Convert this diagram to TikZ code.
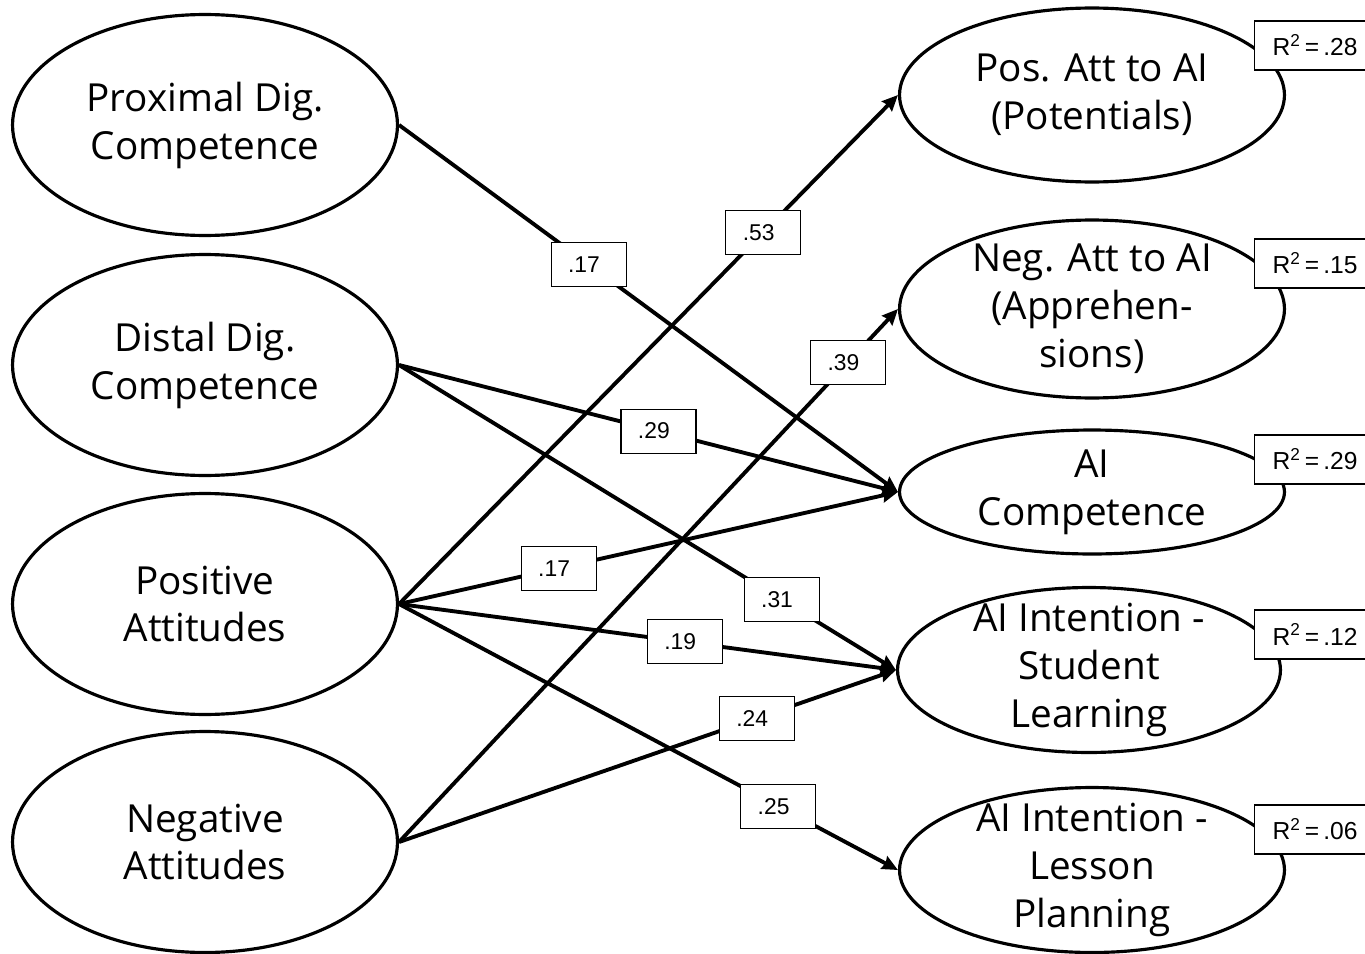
\documentclass[tikz,border=0pt]{standalone}
\usepackage{fontspec}
\setmainfont{Open Sans}
\newfontfamily\boxfont{Liberation Sans}
\usetikzlibrary{shapes.geometric, positioning, arrows.meta}
\tikzset{
latent/.style={ellipse, draw, line width=1.8pt, minimum width=7.7cm, inner sep=0pt}, % the latent variables
lbl/.style={align=center, font=\fontsize{22}{27.3}\selectfont}, % text inside the ellipses
effect/.style={line width=2.2pt, -{Stealth[length=9pt, width=8pt, inset=1pt]}}, % the paths
coef/.style={draw, fill=white, line width=0.6pt, font=\boxfont\fontsize{13}{15}\selectfont, minimum height=0.88cm, inner xsep=0.34cm, text width=0.82cm, align=left}, % path coefficients
rsq/.style={draw, fill=white, line width=0.6pt, anchor=west, font=\boxfont\fontsize{14}{16}\selectfont, minimum height=0.98cm, inner xsep=0.36cm, text width=2cm, align=left}, % explained variance
}

\begin{document}
\begin{tikzpicture}[x=0.02cm, y=-0.02cm]
\useasboundingbox (0,0) rectangle (1365,953);

% predictors
\node[latent, minimum height=4.42cm, label={[lbl]center:{Proximal Dig.\\Competence}}] (prox) at (205,125) {};
\node[latent, minimum height=4.42cm, label={[lbl]center:{Distal Dig.\\Competence}}] (dist) at (205,365) {};
\node[latent, minimum height=4.42cm, label={[lbl]center:{Positive\\Attitudes}}] (posatt) at (205,604) {};
\node[latent, minimum height=4.42cm, label={[lbl]center:{Negative\\Attitudes}}] (negatt) at (205,842) {};

% outcomes
\node[latent, minimum height=3.48cm, label={[lbl]center:{Pos. Att to AI\\(Potentials)}}] (posai) at (1092,95) {};
\node[latent, minimum height=3.56cm, label={[lbl]center:{Neg. Att to AI\\(Apprehen-\\sions)}}] (negai) at (1092,309) {};
\node[latent, minimum height=2.48cm, label={[lbl]center:{AI\\Competence}}] (aicomp) at (1092,492) {};
\node[latent, minimum width=7.66cm, minimum height=3.3cm, label={[lbl]center:{AI Intention -\\Student\\Learning}}] (intsl) at (1089,670) {};
\node[latent, minimum height=3.3cm, label={[lbl]center:{AI Intention -\\Lesson\\Planning}}] (intlp) at (1092,870) {};

% paths
\draw[effect] (prox.east) -- node[coef, pos=.38] {.17} (aicomp.west);
\draw[effect] (dist.east) -- node[coef, pos=.52] {.29} (aicomp.west);
\draw[effect] (dist.east) -- node[coef, pos=.77] {.31} (intsl.west);
\draw[effect] (posatt.east) -- node[coef, pos=.73] {.53} (posai.west);
\draw[effect] (posatt.east) -- node[coef, pos=.32] {.17} (aicomp.west);
\draw[effect] (posatt.east) -- node[coef, pos=.575] {.19} (intsl.west);
\draw[effect] (posatt.east) -- node[coef, pos=.76] {.25} (intlp.west);
\draw[effect] (negatt.east) -- node[coef, pos=.9] {.39} (negai.west);
\draw[effect] (negatt.east) -- node[coef, pos=.72] {.24} (intsl.west);

% R squared
\node[rsq] (r1) at (1254,45.5) {R\textsuperscript{2}\,=\,.28};
\node[rsq] (r2) at (1254,263.5) {R\textsuperscript{2}\,=\,.15};
\node[rsq] (r3) at (1254,459.5) {R\textsuperscript{2}\,=\,.29};
\node[rsq] (r4) at (1254,634.5) {R\textsuperscript{2}\,=\,.12};
\node[rsq] (r5) at (1254,829.5) {R\textsuperscript{2}\,=\,.06};

\end{tikzpicture}
\end{document}
